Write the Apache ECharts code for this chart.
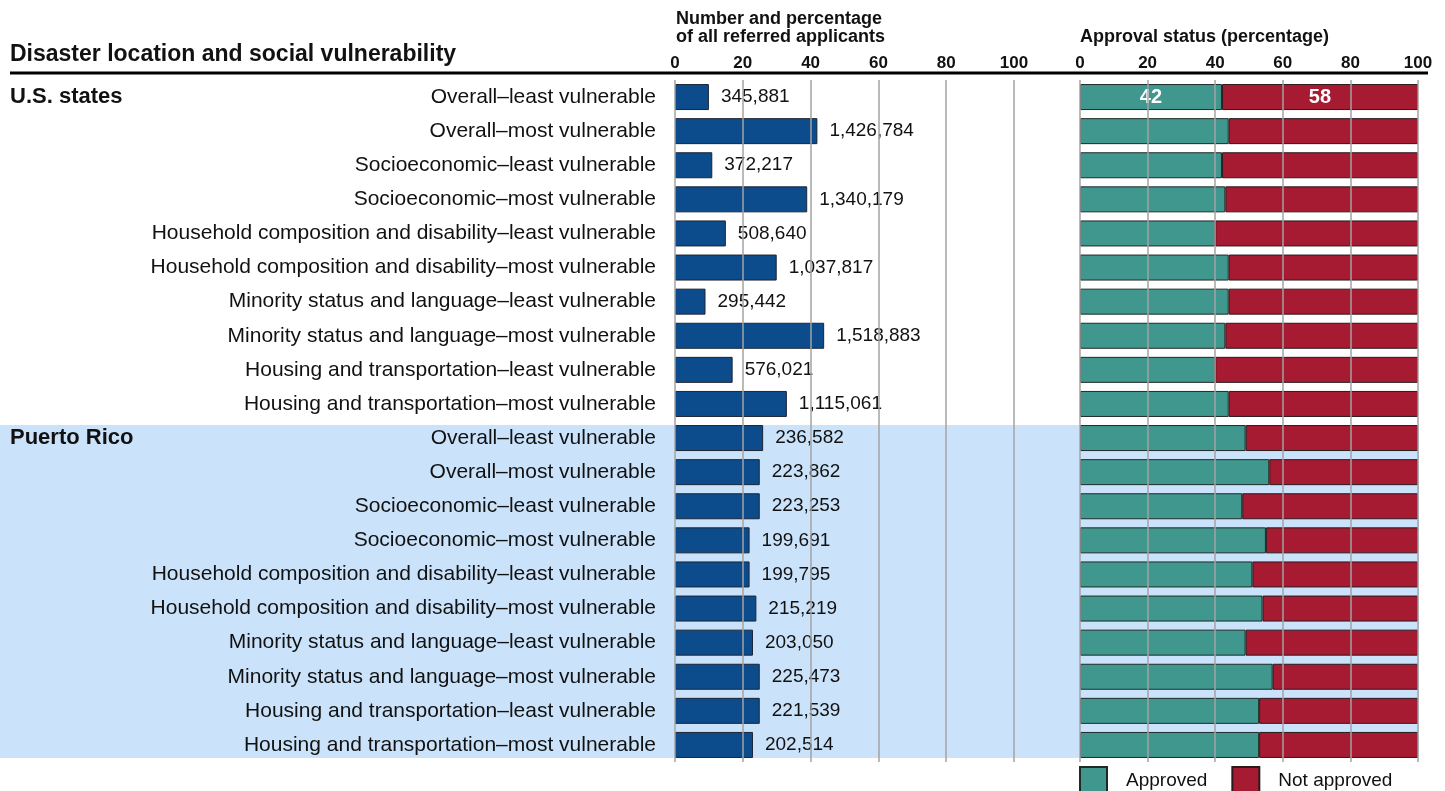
<!DOCTYPE html>
<html>
<head>
<meta charset="utf-8">
<script src="https://cdn.jsdelivr.net/npm/echarts@6/dist/echarts.min.js"></script>
<style>
  html, body { margin: 0; padding: 0; background: #fff; }
  #chart { width: 1445px; height: 791px; }
</style>
</head>
<body>
<div id="chart"></div>
<script>
// groups and rows
const groupNames = ['U.S. states', 'Puerto Rico']
const rowLabels = [
  'Overall–least vulnerable',
  'Overall–most vulnerable',
  'Socioeconomic–least vulnerable',
  'Socioeconomic–most vulnerable',
  'Household composition and disability–least vulnerable',
  'Household composition and disability–most vulnerable',
  'Minority status and language–least vulnerable',
  'Minority status and language–most vulnerable',
  'Housing and transportation–least vulnerable',
  'Housing and transportation–most vulnerable'
]

// number of referred applicants
const usCounts = [345881, 1426784, 372217, 1340179, 508640, 1037817, 295442, 1518883, 576021, 1115061]
const prCounts = [236582, 223862, 223253, 199691, 199795, 215219, 203050, 225473, 221539, 202514]

// percentage of all referred applicants
const usShare = [10, 42, 11, 39, 15, 30, 9, 44, 17, 33]
const prShare = [26, 25, 25, 22, 22, 24, 23, 25, 25, 23]

// approval status (percentage)
const usApproved = [42, 44, 42, 43, 40, 44, 44, 43, 40, 44]
const usNotApproved = [58, 56, 58, 57, 60, 56, 56, 57, 60, 56]
const prApproved = [49, 56, 48, 55, 51, 54, 49, 57, 53, 53]
const prNotApproved = [51, 44, 52, 45, 49, 46, 51, 43, 47, 47]

const categories = rowLabels.concat(rowLabels)
const counts = usCounts.concat(prCounts)
const share = usShare.concat(prShare)
const approved = usApproved.concat(prApproved)
const notApproved = usNotApproved.concat(prNotApproved)
const prStart = rowLabels.length
const prEnd = categories.length - 1

const myChart = echarts.init(document.getElementById('chart'))

const gridTop = 80
const gridBottom = 29
const ink = '#111'
const gridLine = { show: true, lineStyle: { color: '#a3a3a3', width: 1.5 } }
const tickLabel = { fontSize: 17, fontWeight: 'bold', color: ink, margin: 1 }

myChart.setOption({
  animation: false,
  textStyle: { fontFamily: 'Liberation Sans, Arial, sans-serif' },
  title: [
    {
      text: 'Disaster location and social vulnerability',
      left: 10, top: 43, padding: 0,
      textStyle: { fontSize: 23, fontWeight: 'bold', color: ink }
    },
    {
      text: 'Number and percentage\nof all referred applicants',
      left: 676, top: 10, padding: 0,
      textStyle: { fontSize: 18, fontWeight: 'bold', color: ink, lineHeight: 18 }
    },
    {
      text: 'Approval status (percentage)',
      left: 1080, top: 28, padding: 0,
      textStyle: { fontSize: 18, fontWeight: 'bold', color: ink }
    }
  ],
  legend: {
    data: ['Approved', 'Not approved'],
    left: 1079, top: 766, padding: 0,
    itemWidth: 27, itemHeight: 27, itemGap: 24,
    icon: 'rect',
    textStyle: { fontSize: 19, color: ink, padding: [0, 0, 0, 14] }
  },
  graphic: [
    {
      type: 'line',
      shape: { x1: 10, y1: 73, x2: 1428, y2: 73 },
      style: { stroke: '#000', lineWidth: 3 },
      z: 100
    }
  ],
  grid: [
    { left: 0, right: 26, top: gridTop, bottom: gridBottom },
    { left: 675, right: 431, top: gridTop, bottom: gridBottom },
    { left: 1080, right: 27, top: gridTop, bottom: gridBottom }
  ],
  xAxis: [
    { gridIndex: 0, type: 'value', min: 0, max: 1, show: false },
    {
      gridIndex: 1, type: 'value', position: 'top', offset: 7,
      min: 0, max: 100, interval: 20, z: 10,
      axisLine: { show: false }, axisTick: { show: false },
      axisLabel: tickLabel, splitLine: gridLine
    },
    {
      gridIndex: 2, type: 'value', position: 'top', offset: 7,
      min: 0, max: 100, interval: 20, z: 10,
      axisLine: { show: false }, axisTick: { show: false },
      axisLabel: tickLabel, splitLine: gridLine
    }
  ],
  yAxis: [
    {
      gridIndex: 0, type: 'category', inverse: true, data: categories, z: 3,
      axisLine: { show: false }, axisTick: { show: false },
      axisLabel: {
        inside: true, margin: 10, interval: 0,
        fontSize: 22, fontWeight: 'bold', color: ink,
        formatter: function (value, index) {
          if (index === 0) return groupNames[0]
          if (index === prStart) return groupNames[1]
          return ''
        }
      }
    },
    {
      gridIndex: 1, type: 'category', inverse: true, data: categories, z: 3,
      axisLine: { show: false }, axisTick: { show: false },
      axisLabel: { interval: 0, margin: 19, fontSize: 21, color: ink }
    },
    {
      gridIndex: 2, type: 'category', inverse: true, data: categories, show: false
    }
  ],
  series: [
    {
      type: 'custom',
      xAxisIndex: 0, yAxisIndex: 0,
      silent: true, z: 0,
      data: [[0, prStart, prEnd]],
      encode: { x: 0, y: 1 },
      renderItem: function (params, api) {
        const a = api.coord([0, api.value(1)])
        const b = api.coord([0, api.value(2)])
        const cs = params.coordSys
        return {
          type: 'rect',
          shape: { x: cs.x, y: a[1] - 13, width: cs.width, height: b[1] - a[1] + 26 },
          style: { fill: '#cbe3fa' }
        }
      }
    },
    {
      name: 'Referred applicants',
      type: 'bar',
      xAxisIndex: 1, yAxisIndex: 1,
      barWidth: 26,
      data: share,
      itemStyle: { color: '#0c4c8c', borderColor: '#1c2433', borderWidth: 1 },
      label: {
        show: true, position: 'right', distance: 12,
        fontSize: 19, color: ink,
        formatter: function (p) { return counts[p.dataIndex].toLocaleString('en-US') }
      }
    },
    {
      name: 'Approved',
      type: 'bar', stack: 'status',
      xAxisIndex: 2, yAxisIndex: 2,
      barWidth: 26,
      data: approved.map(function (v, i) { return i === 0 ? { value: v, label: { show: true } } : v }),
      itemStyle: { color: '#40978e', borderColor: '#1e2a28', borderWidth: 1 },
      label: { show: false, position: 'inside', color: '#fff', fontSize: 20, fontWeight: 'bold' }
    },
    {
      name: 'Not approved',
      type: 'bar', stack: 'status',
      xAxisIndex: 2, yAxisIndex: 2,
      barWidth: 26,
      data: notApproved.map(function (v, i) { return i === 0 ? { value: v, label: { show: true } } : v }),
      itemStyle: { color: '#a61a32', borderColor: '#2a1a1c', borderWidth: 1 },
      label: { show: false, position: 'inside', color: '#fff', fontSize: 20, fontWeight: 'bold' }
    }
  ]
})

window.addEventListener('resize', () => {
  myChart.resize()
})
</script>
</body>
</html>
